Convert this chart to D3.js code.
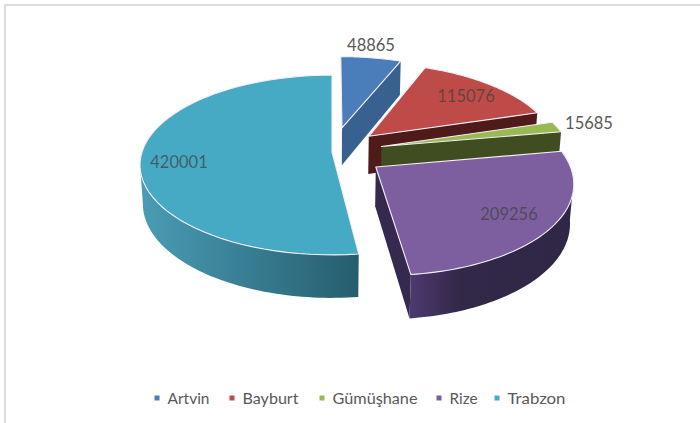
<!DOCTYPE html>
<html><head><meta charset="utf-8">
<script src="https://cdn.jsdelivr.net/npm/d3@7"></script>
<style>html,body{margin:0;padding:0;background:#fff}svg{display:block}</style></head>
<body><svg id="c" width="700" height="423"></svg>
<script>
const categories = ["Artvin","Bayburt","Gümüşhane","Rize","Trabzon"];
const values = [48865,115076,15685,209256,420001];
const topColors = ["#4a7ebb","#be4b48","#98b954","#7d5fa0","#46aac5"];
const sideColors = ["#38618f","#4f1a1a","#3f4d20","#35294f","#3a8aa3"];
const wallStops = [[],[],[],["#4b3a6e","#2f2745"],["#265d6e","#4a9db5"]];
const explode = [0.29,0.27,0.27,0.28,0];
const labelPos = [[371,51],[466,102],[589,129],[509,220],[179,168]];
const legendX=[157,232,322,439,497];
const legendW=[42,56,85,28,58];

const W=700,H=423,cx=332,cy=152,rx=190,ry=88,p=0.1445,depth=39,q=0.015;
const svg=d3.select("#c");
const defs=svg.append("defs");
svg.append("rect").attr("width",W).attr("height",H).attr("fill","#fff");

const pie=d3.pie().sort(null).value(d=>d);
const arcs=pie(values);

function proj(u,v,z){
  const w=1-p*v+(z?q:0);
  return [cx+rx*u/w, cy+(ry*v+(z?depth:0))/w];
}
function pt(a,e,mid,r,z){
  const u=e*Math.sin(mid)+r*Math.sin(a), v=-e*Math.cos(mid)-r*Math.cos(a);
  return proj(u,v,z);
}
const line=d3.line();
const samples=(a,b)=>d3.range(0,61).map(i=>a+(b-a)*i/60);
const FL=98*Math.PI/180, FR=262*Math.PI/180;

const order=[0,1,2,4,3];
const g=svg.append("g");
order.forEach(i=>{
  const s=arcs[i],e=explode[i],mid=(s.startAngle+s.endAngle)/2;
  const a0=s.startAngle,a1=s.endAngle;
  if(a1<Math.PI){
    const P=[pt(0,e,mid,0,0),pt(a1,e,mid,1,0),pt(a1,e,mid,1,1),pt(0,e,mid,0,1)];
    g.append("path").attr("d",line(P)+"Z").attr("fill",sideColors[i]);
  }
  const b0=Math.max(a0,FL),b1=Math.min(a1,FR);
  if(b1>b0){
    const tp=samples(b0,b1).map(a=>pt(a,e,mid,1,0));
    const bt=samples(b0,b1).map(a=>pt(a,e,mid,1,1)).reverse();
    let fill=sideColors[i];
    if(wallStops[i].length){
      const id="w"+i,xs=tp.map(d=>d[0]);
      const lg=defs.append("linearGradient").attr("id",id).attr("gradientUnits","userSpaceOnUse")
        .attr("x1",d3.max(xs)).attr("x2",d3.min(xs)).attr("y1",0).attr("y2",0);
      if(i==3){
        lg.append("stop").attr("offset",0).attr("stop-color","#2f2745");
        lg.append("stop").attr("offset",0.7).attr("stop-color","#322848");
        lg.append("stop").attr("offset",1).attr("stop-color","#4b3a6e");
      }else{
        lg.append("stop").attr("offset",0).attr("stop-color",wallStops[i][0]);
        lg.append("stop").attr("offset",1).attr("stop-color",wallStops[i][1]);
      }
      fill=`url(#${id})`;
    }
    g.append("path").attr("d",line(tp.concat(bt))+"Z").attr("fill",fill);
  }
  const face=[pt(0,e,mid,0,0)].concat(samples(a0,a1).map(a=>pt(a,e,mid,1,0)));
  g.append("path").attr("d",line(face)+"Z").attr("fill",topColors[i])
    .attr("stroke","#f3eef5").attr("stroke-width",1.1).attr("stroke-linejoin","round");
});

const lab=svg.append("g").attr("font-family","Lato").attr("font-size",16.5);
values.forEach((v,i)=>{
  const inside=i==1||i==3||i==4;
  lab.append("text").attr("x",labelPos[i][0]).attr("y",labelPos[i][1]).attr("text-anchor","middle")
    .attr("fill",inside?"#404040":"#595959").attr("fill-opacity",inside?0.72:1).text(d3.format("d")(v));
});

const lg=svg.append("g").attr("font-family","Lato").attr("font-size",16).attr("fill","#595959");
categories.forEach((c,i)=>{
  lg.append("rect").attr("x",legendX[i]-2.5).attr("y",395.5).attr("width",5).attr("height",5).attr("fill",topColors[i]);
  lg.append("text").attr("x",legendX[i]+10.5).attr("y",403.5)
    .attr("textLength",legendW[i]).attr("lengthAdjust","spacingAndGlyphs").text(c);
});
const frame=svg.append("g").attr("stroke","#dcdcdc").attr("stroke-width",2);
frame.append("line").attr("x1",5).attr("x2",5).attr("y1",4).attr("y2",H);
frame.append("line").attr("x1",4).attr("x2",W).attr("y1",5).attr("y2",5);
</script></body></html>
